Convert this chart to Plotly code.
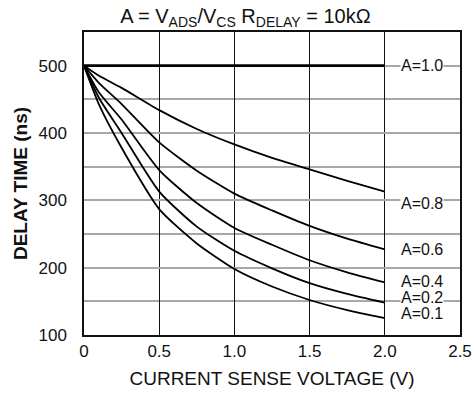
import plotly.graph_objects as go

# Data
voltage = [0, 0.1, 0.25, 0.5, 0.75, 1.0, 1.25, 1.5, 1.75, 2.0]
a_labels = ["A=1.0", "A=0.8", "A=0.6", "A=0.4", "A=0.2", "A=0.1"]
delay_a10 = [500, 500, 500, 500, 500, 500, 500, 500, 500, 500]
delay_a08 = [500, 485, 467, 434, 406, 383, 363, 346, 329, 313]
delay_a06 = [500, 474, 443, 386, 344, 310, 285, 262, 243, 227]
delay_a04 = [500, 460, 420, 345, 296, 259, 234, 211, 193, 178]
delay_a02 = [500, 452, 400, 313, 261, 225, 199, 177, 161, 148]
delay_a01 = [500, 442, 378, 287, 236, 198, 172, 152, 137, 125]
x_ticks = [0, 0.5, 1.0, 1.5, 2.0, 2.5]
x_ticktext = ["0", "0.5", "1.0", "1.5", "2.0", "2.5"]
y_ticks = [100, 200, 300, 400, 500]

series = [delay_a10, delay_a08, delay_a06, delay_a04, delay_a02, delay_a01]
label_yshift = [0, -12, 0, 1, 5, 5]
widths = [2.6, 1.8, 1.8, 1.8, 1.8, 1.8]

FONT = "Liberation Sans, Arial, sans-serif"

fig = go.Figure()
for lab, ys, w in zip(a_labels, series, widths):
    fig.add_trace(go.Scatter(x=voltage, y=ys, mode="lines", name=lab,
                             line=dict(color="black", width=w, shape="spline", smoothing=0.6),
                             showlegend=False, hoverinfo="skip"))

# darker horizontal gridlines
for yv in [150, 300, 350]:
    fig.add_hline(y=yv, line=dict(color="#222", width=1.2), layer="below")

for lab, ys, sh in zip(a_labels, series, label_yshift):
    fig.add_annotation(x=2.25, y=ys[-1], text=lab, showarrow=False, xanchor="center",
                       yanchor="middle", yshift=sh, bgcolor="white",
                       font=dict(family=FONT, size=16, color="#111"), borderpad=0)

fig.update_layout(
    width=472, height=395,
    margin=dict(l=84, r=12, t=32, b=60, autoexpand=False),
    paper_bgcolor="white", plot_bgcolor="white",
    font=dict(family=FONT, color="#111"),
    title=dict(text="A = V<sub>ADS</sub>/V<sub>CS</sub> R<sub>DELAY</sub> = 10kΩ",
               x=0.52, xanchor="center", y=0.96, yanchor="middle",
               font=dict(family=FONT, size=20, color="#111")),
)
fig.update_xaxes(range=[0, 2.5], tickvals=x_ticks, ticktext=x_ticktext, automargin=False,
                 showgrid=True, gridcolor="#111", gridwidth=1.2,
                 showline=True, linecolor="#111", linewidth=1.5, mirror=True,
                 zeroline=False, ticks="", ticklabelstandoff=0,
                 tickfont=dict(size=17, family=FONT, color="#111"),
                 title=dict(text="CURRENT SENSE VOLTAGE (V)", standoff=12,
                            font=dict(size=19, family=FONT, color="#111")))
fig.update_yaxes(range=[100, 550], tickvals=y_ticks, automargin=False,
                 showgrid=True, gridcolor="#a8a8a8", gridwidth=1.6,
                 minor=dict(dtick=50, tick0=0, showgrid=True, gridcolor="#a8a8a8", gridwidth=1.6),
                 showline=True, linecolor="#111", linewidth=1.5, mirror=True,
                 zeroline=False, ticks="", ticklabelstandoff=12,
                 tickfont=dict(size=17, family=FONT, color="#111"),
                 title=dict(text="<b>DELAY TIME (ns)</b>", standoff=6,
                            font=dict(size=19, family=FONT, color="#111")))

fig.write_html("out.html", config={"displayModeBar": False},
               post_script="document.body.style.margin='0';document.body.style.padding='0';")
